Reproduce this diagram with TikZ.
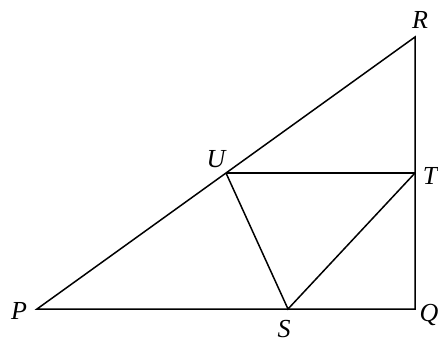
\documentclass[tikz,border=0pt]{standalone}
\usepackage{fontspec}
\setmainfont{Liberation Serif}
\usepackage{tikz}
\newcommand{\glabfont}{\fontsize{26}{30}\selectfont\itshape}

\begin{document}
\begin{tikzpicture}[
  x=1pt, y=-1pt,
  gline/.style={draw=black, line width=1.5pt, line join=miter},
  glab/.style={font=\glabfont, inner sep=0pt},
]
  \useasboundingbox (0,0) rectangle (438,343);
  % vertices
  \coordinate (P) at (37,309);
  \coordinate (Q) at (415,309);
  \coordinate (R) at (415,37);
  \coordinate (U) at (226,173);
  \coordinate (T) at (415,173);
  \coordinate (S) at (288,309);
  % triangle and inner lines
  \draw[gline] (P) -- (Q) -- (R) -- cycle;
  \draw[gline] (U) -- (T);
  \draw[gline] (U) -- (S) -- (T);
  % labels
  \node[glab] (lR) at (420,20) {R};
  \node[glab] (lT) at (430,176) {T};
  \node[glab] (lQ) at (429,315) {Q};
  \node[glab] (lS) at (284,329) {S};
  \node[glab] (lP) at (19,311) {P};
  \node[glab] (lU) at (216,159) {U};
\end{tikzpicture}
\end{document}
